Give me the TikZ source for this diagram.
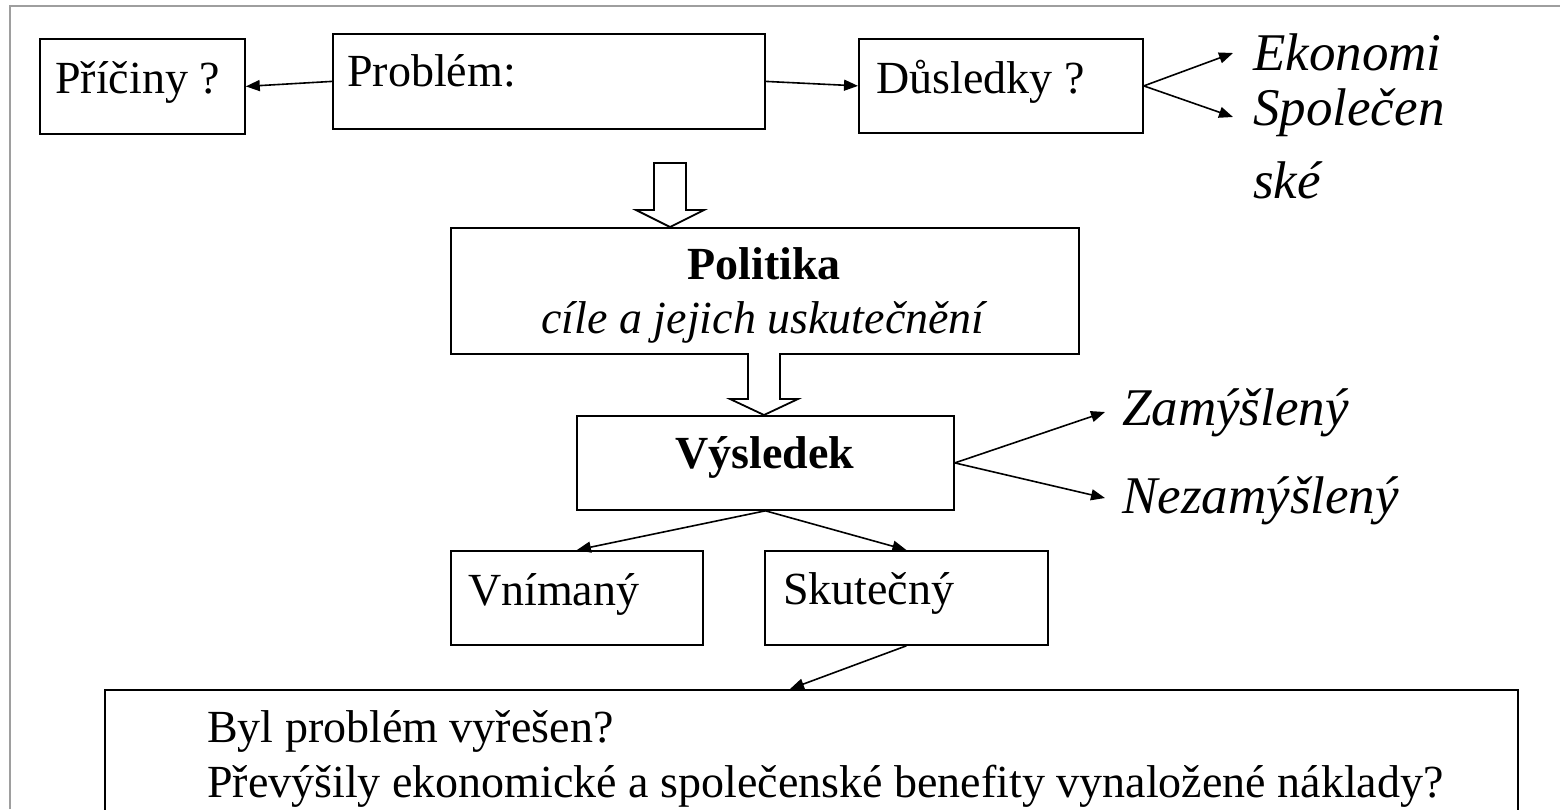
\documentclass[tikz,border=0pt]{standalone}
\usepackage{fontspec}
\setmainfont{Liberation Serif}
\usetikzlibrary{arrows.meta}
\begin{document}
\begin{tikzpicture}[x=1pt,y=-1pt,
  box/.style={draw=black, line width=1.8pt, inner sep=0pt, anchor=north west},
  txt/.style={font=\fontsize{46}{55}\selectfont, inner sep=0pt, anchor=base west},
  btxt/.style={font=\fontsize{46}{55}\selectfont\bfseries, inner sep=0pt, anchor=base},
  ctxt/.style={font=\fontsize{46}{55}\selectfont\itshape, inner sep=0pt, anchor=base},
  itx/.style={font=\fontsize{53}{60}\selectfont\itshape, inner sep=0pt, anchor=base west},
  conn/.style={line width=1.6pt, -{Triangle[length=14pt,width=11pt]}},
  hollow/.style={draw=black, line width=1.8pt, fill=white, line join=miter},
  frame/.style={draw=black!38, line width=2pt}
]
\useasboundingbox (0,0) rectangle (1560,809);
% frame lines
\draw[frame] (10,809) -- (10,6) -- (1560,6);

% boxes
\node[box, minimum width=205pt, minimum height=95pt] (pricinyBox) at (39,38) {};
\node[box, minimum width=432pt, minimum height=95pt] (problemBox) at (332,33) {};
\node[box, minimum width=284pt, minimum height=94pt] (dusledkyBox) at (858,38) {};
\node[box, minimum width=628pt, minimum height=126pt] (politikaBox) at (450,227) {};
\node[box, minimum width=377pt, minimum height=94pt] (vysledekBox) at (576,415) {};
\node[box, minimum width=252pt, minimum height=94pt] (vnimanyBox) at (450,550) {};
\node[box, minimum width=283pt, minimum height=94pt] (skutecnyBox) at (764,550) {};
\node[box, minimum width=1413pt, minimum height=160pt] (otazkyBox) at (104,689) {};

% texts
\node[txt] (tPricin) at (55,93) {Příčiny ?};
\node[txt] (tProblem) at (347,86) {Problém:};
\node[txt] (tDusl) at (876,93) {Důsledky ?};
\node[itx] (tEkon) at (1253,70) {Ekonomi};
\node[itx] (tSpol) at (1253,125) {Společen};
\node[itx] (tSke) at (1253,198) {ské};
\node[btxt] (tPolit) at (764,279) {Politika};
\node[ctxt] (tCile) at (763,333) {cíle a jejich uskutečnění};
\node[btxt] (tVysl) at (765,468) {Výsledek};
\node[itx] (tZam) at (1122,425) {Zamýšlený};
\node[itx] (tNezam) at (1122,513) {Nezamýšlený};
\node[txt] (tVnim) at (468,605) {Vnímaný};
\node[txt] (tSkut) at (783,604) {Skutečný};
\node[txt] (tQ1) at (207,742) {Byl problém vyřešen?};
\node[txt] (tQ2) at (207,797) {Převýšily ekonomické a společenské benefity vynaložené náklady?};

% arrow end points
\coordinate (cEk) at (1233,53);
\coordinate (cSp) at (1233,117);
\coordinate (cZam) at (1105,412);
\coordinate (cNez) at (1105,498);
\coordinate (cOt) at (790,689);

% connectors
\draw[conn] (problemBox.west) -- (pricinyBox.east);
\draw[conn] (problemBox.east) -- (dusledkyBox.west);
\draw[conn] (dusledkyBox.east) -- (cEk);
\draw[conn] (dusledkyBox.east) -- (cSp);
\draw[conn] (vysledekBox.east) -- (cZam);
\draw[conn] (vysledekBox.east) -- (cNez);
\draw[conn] (vysledekBox.south) -- (vnimanyBox.north);
\draw[conn] (vysledekBox.south) -- (skutecnyBox.north);
\draw[conn] (skutecnyBox.south) -- (cOt);

% hollow block arrows
\coordinate (ha1) at (670,163);
\draw[hollow] (ha1) ++(-16,0) -- ++(0,47) -- ++(-18,0) -- (670,227) -- (704,210) -- (686,210) -- (686,163) -- cycle;
\coordinate (ha2) at (764,353);
\draw[hollow] (748,353) -- (748,399) -- (730,399) -- (764,415) -- (798,399) -- (780,399) -- (780,353);
\end{tikzpicture}
\end{document}
